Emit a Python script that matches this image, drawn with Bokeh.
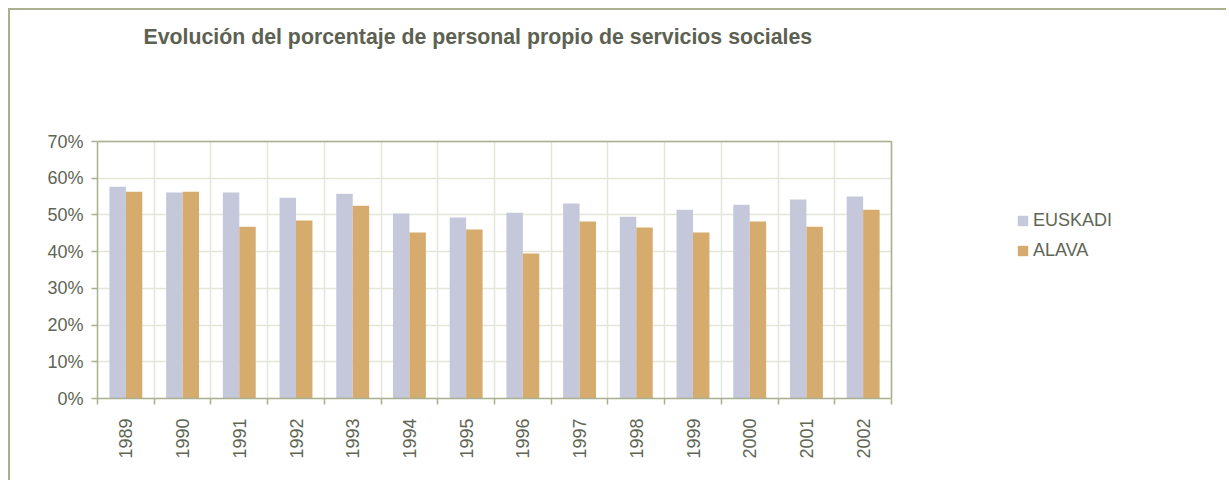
import math
from bokeh.plotting import figure
from bokeh.layouts import column
from bokeh.models import (Range1d, FixedTicker, NumeralTickFormatter, ColumnDataSource,
                          Legend, LegendItem, Grid)
from bokeh.transform import dodge
from bokeh.embed import file_html
from bokeh.resources import INLINE

# ---- data ----
years = ["1989", "1990", "1991", "1992", "1993", "1994", "1995",
         "1996", "1997", "1998", "1999", "2000", "2001", "2002"]
euskadi = [0.577, 0.561, 0.561, 0.547, 0.558, 0.504, 0.493,
           0.506, 0.531, 0.495, 0.514, 0.528, 0.542, 0.550]
alava = [0.563, 0.563, 0.468, 0.485, 0.525, 0.452, 0.460,
         0.395, 0.482, 0.466, 0.452, 0.482, 0.468, 0.514]
y_ticks = [0.0, 0.1, 0.2, 0.3, 0.4, 0.5, 0.6, 0.7]
y_max = 0.7
series_names = ["EUSKADI", "ALAVA"]
title_text = "Evolución del porcentaje de personal propio de servicios sociales"

# ---- style ----
FONT = "Liberation Sans"
C_EUS = "#c5c7da"
C_ALA = "#d5ab6e"
C_AXIS = "#a8b08f"
C_GRID = "#e3e6d8"
C_TEXT = "#606554"
C_TITLE = "#5c6151"

# ---- layout (page pixels) ----
OX, OY = 10, 10            # canvas origin on the page
W, H = 1218, 472
PL, PR, PT, PB = 97, 891, 141, 398   # visible plot area
FR, FT = 1220, 53                    # extended frame right / top

n = len(years)
centers = [i + 0.5 for i in range(n)]
bounds = [float(i) for i in range(n + 1)]
x_end = n * (FR - PL) / (PR - PL)
y_end = y_max * (PB - FT) / (PB - PT)

src = ColumnDataSource(dict(x=centers, year=years, eus=euskadi, ala=alava))

p = figure(width=W, height=H, output_backend="svg", toolbar_location=None,
           x_range=Range1d(0, x_end), y_range=Range1d(0, y_end),
           min_border_left=PL - OX, min_border_top=FT - OY,
           min_border_right=OX + W - FR, min_border_bottom=OY + H - PB,
           styles={"border-left": "2px solid #a8b08f", "border-top": "2px solid #a8b08f"})
p.background_fill_color = "white"
p.border_fill_color = "white"
p.outline_line_color = None

# title
p.title.text = title_text
p.title.align = "left"
p.title.offset = 46
p.title.text_font = FONT
p.title.text_font_style = "bold"
p.title.text_font_size = "21.3px"
p.title.text_color = C_TITLE
p.title.standoff = 10

bw = 0.29
r1 = p.vbar(x=dodge("x", -bw / 2), top="eus", width=bw, source=src,
            fill_color=C_EUS, line_color=None)
r2 = p.vbar(x=dodge("x", bw / 2), top="ala", width=bw, source=src,
            fill_color=C_ALA, line_color=None)

# y axis
ya = p.yaxis[0]
ya.bounds = (0, y_max)
ya.ticker = FixedTicker(ticks=y_ticks)
ya.formatter = NumeralTickFormatter(format="0%")
ya.axis_line_color = C_AXIS
ya.axis_line_width = 1.5
ya.major_tick_line_color = C_AXIS
ya.major_tick_line_width = 1.5
ya.major_tick_out = 6
ya.major_tick_in = 0
ya.minor_tick_line_color = None
ya.major_label_text_font = FONT
ya.major_label_text_font_size = "18px"
ya.major_label_text_color = C_TEXT
ya.major_label_standoff = 8

# x axis
xa = p.xaxis[0]
xa.bounds = (0, n)
xa.ticker = FixedTicker(ticks=centers, minor_ticks=bounds)
xa.major_label_overrides = {c: y for c, y in zip(centers, years)}
xa.major_label_orientation = math.pi / 2
xa.axis_line_color = C_AXIS
xa.axis_line_width = 1.5
xa.major_tick_line_color = None
xa.major_tick_out = 0
xa.major_tick_in = 0
xa.minor_tick_line_color = C_AXIS
xa.minor_tick_line_width = 1.5
xa.minor_tick_out = 6
xa.minor_tick_in = 0
xa.major_label_text_font = FONT
xa.major_label_text_font_size = "18px"
xa.major_label_text_color = C_TEXT
xa.major_label_standoff = 14

# grids
p.xgrid.ticker = FixedTicker(ticks=bounds)
p.xgrid.bounds = (0, n)
p.xgrid.cross_bounds = (0, y_max)
p.xgrid.grid_line_color = C_GRID
p.xgrid.grid_line_width = 1.5
p.ygrid.ticker = FixedTicker(ticks=y_ticks)
p.ygrid.bounds = (0, y_max)
p.ygrid.cross_bounds = (0, n)
p.ygrid.grid_line_color = C_GRID
p.ygrid.grid_line_width = 1.5
# plot-area outline (top and right edges)
p.add_layout(Grid(dimension=1, ticker=FixedTicker(ticks=[y_max]),
                  bounds=(0, y_max), cross_bounds=(0, n),
                  grid_line_color=C_AXIS, grid_line_width=1.5))
p.add_layout(Grid(dimension=0, ticker=FixedTicker(ticks=[float(n)]),
                  bounds=(0, n), cross_bounds=(0, y_max),
                  grid_line_color=C_AXIS, grid_line_width=1.5))

# legend
legend = Legend(items=[LegendItem(label=series_names[0], renderers=[r1]),
                       LegendItem(label=series_names[1], renderers=[r2])],
                location=(1016 - PL, 137), orientation="vertical")
legend.glyph_width = 13
legend.glyph_height = 13
legend.label_height = 21
legend.spacing = 9
legend.label_standoff = 4
legend.padding = 0
legend.margin = 0
legend.border_line_color = None
legend.background_fill_alpha = 0
legend.label_text_font = FONT
legend.label_text_font_size = "18px"
legend.label_text_color = C_TEXT
p.add_layout(legend, "center")

root = column(p, styles={"padding-left": "8px", "padding-top": "8px",
                         "background": "white"})

open("out.html", "w").write(file_html(root, INLINE))
